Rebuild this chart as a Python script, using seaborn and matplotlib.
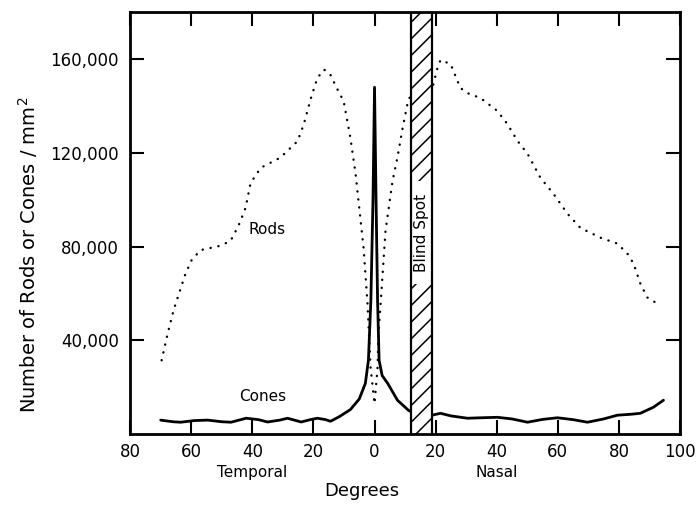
import matplotlib
matplotlib.use("Agg")
import matplotlib.pyplot as plt
import matplotlib.transforms as mtransforms
from matplotlib.patches import Rectangle
import seaborn as sns
import pandas as pd

# ---------------- data ----------------
rod_deg = [-69.7, -67.7, -65.8, -62.0, -60.0, -57.0, -50.4, -47.1, -44.5, -42.2,
           -40.6, -37.3, -30.8, -25.2, -23.2, -20.9, -18.7, -16.5, -14.5, -12.5,
           -10.1, -7.9, -6.2, -3.6, -2.3, -1.3, 0.0, 1.0, 1.3, 2.0,
           3.6, 5.9, 7.5, 9.2, 11.1, 15.0, 18.8, 20.6, 21.6, 24.9,
           28.1, 30.4, 34.7, 40.2, 43.5, 46.8, 50.1, 54.3, 58.6, 63.2,
           67.4, 74.0, 79.5, 82.8, 84.8, 87.0, 89.3, 93.6]
rod_density = [31500, 43000, 52800, 68000, 74000, 78500, 80400, 82500, 89000, 96600,
               107000, 113600, 118000, 125000, 132000, 143000, 152000, 155500, 153500, 148000,
               142000, 126400, 111000, 79600, 55700, 28500, 13000, 28500, 43000, 55700,
               86800, 108000, 118000, 130600, 143000, 148000, 147000, 156200, 159600, 157900,
               147700, 145500, 143400, 137900, 132300, 125100, 119600, 109400, 102500, 94000,
               88000, 83800, 81300, 77000, 72800, 64300, 58300, 54900]

cone_deg = [-70.0, -66.0, -63.5, -59.0, -54.6, -50.0, -47.0, -42.0, -38.0, -35.0,
            -31.0, -28.5, -24.0, -21.0, -18.7, -16.0, -14.4, -11.5, -7.9, -5.0,
            -3.0, -2.0, -1.2, -0.5, 0.0, 0.5, 1.0, 1.5, 2.5, 4.3,
            7.5, 11.1, 12.0, 18.7, 19.5, 21.6, 25.0, 30.4, 35.0, 40.2,
            45.0, 50.1, 55.0, 59.9, 65.0, 69.7, 75.0, 79.5, 84.0, 87.0,
            91.3, 94.6]
cone_density = [6000, 5300, 5100, 5800, 6000, 5300, 5100, 6800, 6200, 5200,
                6000, 6800, 5200, 6200, 6800, 6200, 5500, 7500, 10500, 15000,
                21700, 31500, 57000, 100000, 148000, 100000, 57000, 31500, 25000, 21700,
                14500, 10200, 9500, 8000, 8300, 8900, 7800, 6800, 7000, 7200,
                6500, 5100, 6300, 7000, 6200, 5100, 6500, 8100, 8500, 8900,
                11500, 14500]

x_tick_pos = [-80, -60, -40, -20, 0, 20, 40, 60, 80, 100]
x_tick_labels = ["80", "60", "40", "20", "0", "20", "40", "60", "80", "100"]
y_tick_pos = [40000, 80000, 120000, 160000]
y_tick_labels = ["40,000", "80,000", "120,000", "160,000"]

blind_spot = (11.8, 18.7)
blind_label_box = (64000, 108000)

rods = pd.DataFrame({"deg": rod_deg, "density": rod_density})
cones = pd.DataFrame({"deg": cone_deg, "density": cone_density})

# ---------------- figure ----------------
sns.set_style("ticks")
plt.rcParams["font.family"] = ["DejaVu Sans"]
plt.rcParams["hatch.linewidth"] = 1.1
for key in ["text.color", "axes.labelcolor", "xtick.color", "ytick.color",
            "axes.edgecolor"]:
    plt.rcParams[key] = "black"

fig = plt.figure(figsize=(6.96, 5.09), dpi=100)
ax = fig.add_axes([0.187, 0.147, 0.790, 0.829])

sns.lineplot(data=rods, x="deg", y="density", ax=ax, sort=False, estimator=None,
             color="black", linewidth=1.7, linestyle=(0, (0.1, 3.3)),
             dash_capstyle="round", zorder=2)
sns.lineplot(data=cones, x="deg", y="density", ax=ax, sort=False, estimator=None,
             color="black", linewidth=2.0, zorder=2)

# blind spot bar
ax.axvspan(blind_spot[0], blind_spot[1], facecolor="white", edgecolor="black",
           hatch="//", linewidth=0, zorder=3)
ax.add_patch(Rectangle((blind_spot[0], blind_label_box[0]),
                       blind_spot[1] - blind_spot[0],
                       blind_label_box[1] - blind_label_box[0],
                       facecolor="white", edgecolor="none", zorder=4))
for xb in blind_spot:
    ax.axvline(xb, color="black", linewidth=1.6, zorder=5)
ax.text(sum(blind_spot) / 2, sum(blind_label_box) / 2, "Blind Spot", rotation=90,
        ha="center", va="center", fontsize=11, zorder=6)

# annotations
ax.text(-35.3, 87200, "Rods", ha="center", va="center", fontsize=11)
ax.text(-36.6, 16200, "Cones", ha="center", va="center", fontsize=11)

trans = mtransforms.blended_transform_factory(ax.transData, ax.transAxes)
ax.text(-40, -0.09, "Temporal", transform=trans, ha="center", va="center", fontsize=11)
ax.text(40, -0.09, "Nasal", transform=trans, ha="center", va="center", fontsize=11)

# axes
ax.set_xlim(-80, 100)
ax.set_ylim(0, 180000)
ax.set_xticks(x_tick_pos, x_tick_labels)
ax.set_yticks(y_tick_pos, y_tick_labels)
ax.tick_params(direction="in", length=10, width=1.5, top=True, right=True,
               labeltop=False, labelright=False, labelsize=12, colors="black")
ax.tick_params(axis="y", pad=8)
ax.tick_params(axis="x", pad=6)
for s in ax.spines.values():
    s.set_linewidth(2.0)
    s.set_visible(True)
    s.set_color("black")
    s.set_zorder(7)

ax.set_xlabel("Degrees", fontsize=13, color="black")
ax.xaxis.label.set_va("center")
ax.xaxis.set_label_coords(0.422, -0.135)
ax.set_ylabel("Number of Rods or Cones / mm$^2$", fontsize=14, color="black")
ax.yaxis.label.set_va("center")
ax.yaxis.set_label_coords(-0.185, 0.424)

fig.savefig("out.png", dpi=100)
